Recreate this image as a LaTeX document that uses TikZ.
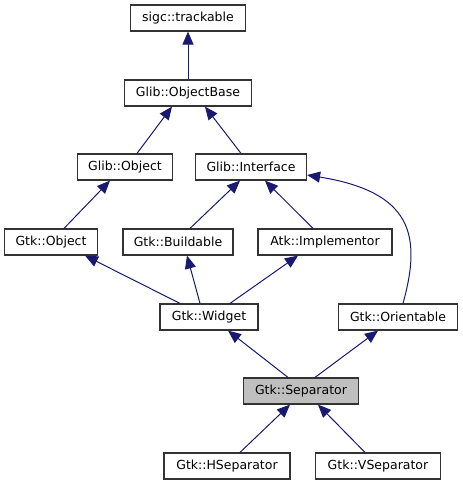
\documentclass[tikz,border=0pt]{standalone}
\usepackage{fontspec}
\setmainfont{DejaVu Sans}
\usetikzlibrary{arrows.meta}
\definecolor{edgeblue}{HTML}{191970}
\tikzset{
    cls/.style={draw=black!80, line width=1.2pt, minimum height=26pt, inner sep=0pt,
        font=\fontsize{12.5}{15}\selectfont},
    arr/.style={draw=edgeblue, line width=1pt,
        -{Triangle[length=13pt,width=11pt,fill=edgeblue]}}
}

\begin{document}
\begin{tikzpicture}[x=1pt,y=-1pt]
    \useasboundingbox (0,0) rectangle (463,485);

    \node[cls, minimum width=115pt] (TRACK) at (188,18) {sigc::trackable};
    \node[cls, minimum width=127pt] (OBJBASE) at (188,93) {Glib::ObjectBase};

    \node[cls, minimum width=95pt] (GLIBOBJ) at (125,167) {Glib::Object};
    \node[cls, minimum width=111pt] (IFACE) at (251,167) {Glib::Interface};

    \node[cls, minimum width=93pt] (GTKOBJ) at (51,242) {Gtk::Object};
    \node[cls, minimum width=110pt] (BUILD) at (178,242) {Gtk::Buildable};
    \node[cls, minimum width=134pt] (IMPL) at (325,242) {Atk::Implementor};

    \node[cls, minimum width=98pt] (WIDGET) at (209,317) {Gtk::Widget};
    \node[cls, minimum width=119pt] (ORIENT) at (398,317) {Gtk::Orientable};

    \node[cls, minimum width=115pt, fill=black!25] (SEP) at (301,391) {Gtk::Separator};

    \node[cls, minimum width=126pt] (HSEP) at (227,466) {Gtk::HSeparator};
    \node[cls, minimum width=125pt] (VSEP) at (378,466) {Gtk::VSeparator};

    % inheritance
    \draw[arr] (OBJBASE.north) -- (TRACK.south);
    \draw[arr] ([xshift=12]GLIBOBJ.north) -- ([xshift=-16]OBJBASE.south);
    \draw[arr] ([xshift=-10]IFACE.north) -- ([xshift=17]OBJBASE.south);
    \draw[arr] ([xshift=13]GTKOBJ.north) -- ([xshift=-15]GLIBOBJ.south);
    \draw[arr] ([xshift=12]BUILD.north) -- ([xshift=-11]IFACE.south);
    \draw[arr] ([xshift=-12]IMPL.north) -- ([xshift=14]IFACE.south);
    \draw[arr] ([xshift=5]ORIENT.north) .. controls (422,235) and (412,192) .. ([yshift=-8]IFACE.east);
    \draw[arr] ([xshift=-29]WIDGET.north) -- ([xshift=34]GTKOBJ.south);
    \draw[arr] ([xshift=-9]WIDGET.north) -- ([xshift=9]BUILD.south);
    \draw[arr] ([xshift=21]WIDGET.north) -- ([xshift=-27]IMPL.south);
    \draw[arr] ([xshift=-13]SEP.north) -- ([xshift=19]WIDGET.south);
    \draw[arr] ([xshift=14]SEP.north) -- ([xshift=-20]ORIENT.south);
    \draw[arr] ([xshift=13]HSEP.north) -- ([xshift=-11]SEP.south);
    \draw[arr] ([xshift=-13]VSEP.north) -- ([xshift=17]SEP.south);
\end{tikzpicture}
\end{document}
